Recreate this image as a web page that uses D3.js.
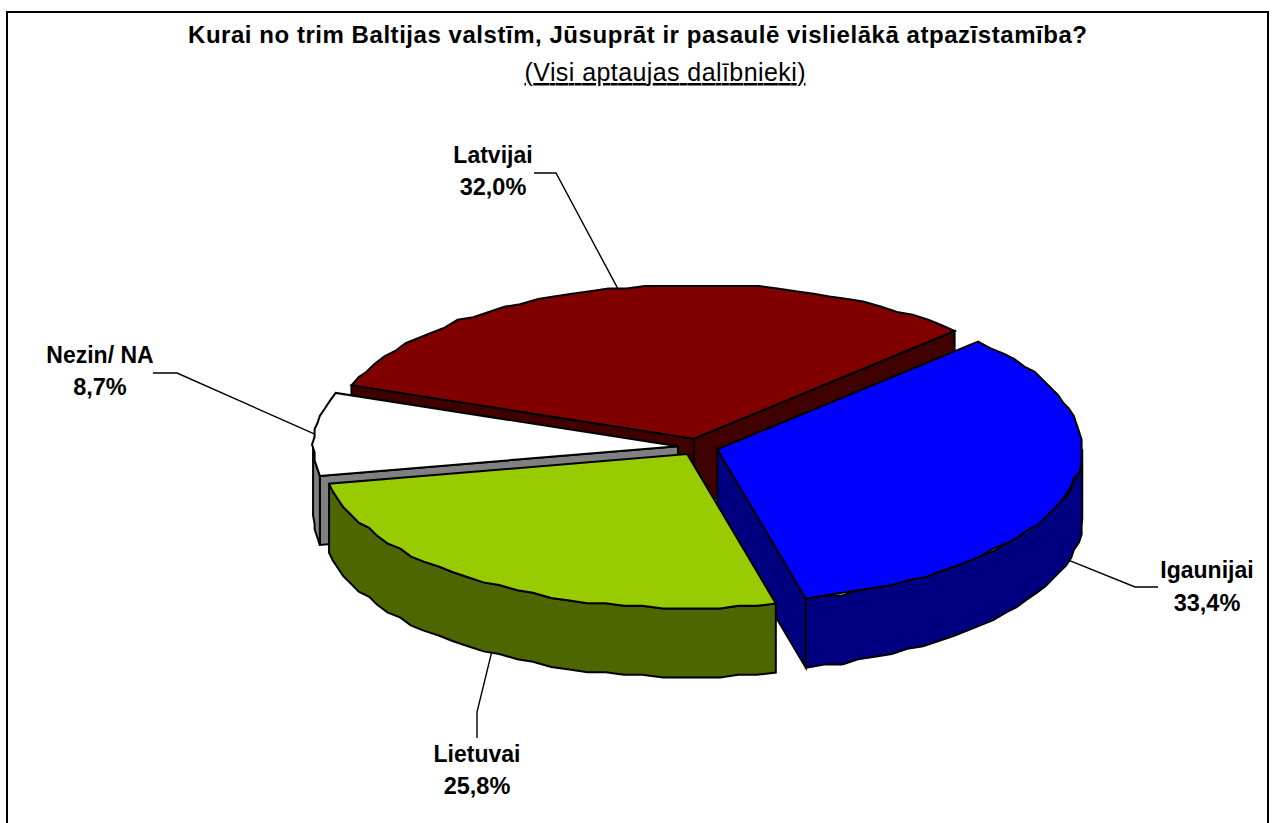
<!DOCTYPE html>
<html><head><meta charset="utf-8">
<script src="https://cdn.jsdelivr.net/npm/d3@7/dist/d3.min.js"></script>
<style>html,body{margin:0;padding:0;background:#fff}svg{display:block}text{font-family:"Liberation Sans",Arial,sans-serif;fill:#000}</style>
</head><body><svg id="c" width="1275" height="823"></svg>
<script>
const titleText = "Kurai no trim Baltijas valstīm, Jūsuprāt ir pasaulē vislielākā atpazīstamība?";
const subtitleText = "(Visi aptaujas dalībnieki)";
const categories = ["Igaunijai", "Lietuvai", "Nezin/ NA", "Latvijai"];
const values = [33.4, 25.8, 8.7, 32.0];
const topColors = ["#0000ff", "#99cc00", "#ffffff", "#800000"];
const wallColors = ["#000080", "#4d6600", "#808080", "#400000"];
const drawOrder = ["Latvijai", "Nezin/ NA", "Igaunijai", "Lietuvai"];

const W = 1275, H = 823;
const cx = 698, cy = 447, rx = 365, ry = 154, depth = 69, explode = 20, grid = 2.6;
const svg = d3.select("#c");
svg.append("path").attr("d", `M7,${H}V12H1268V${H}`).attr("fill","none").attr("stroke","#000").attr("stroke-width",2);

const startA = 45.6*Math.PI/180;
const pie = d3.pie().sort(null).startAngle(startA).endAngle(startA + 2*Math.PI);
const arcs = pie(values);
const q = v => Math.round(v/grid)*grid;
const line = d3.line();

const labelLayout = {
  "Igaunijai": {elbow:[1135,587], end:[1158,587], x:1207, y:[578,611], wall:true},
  "Lietuvai":  {elbow:[477,712], end:[477,738], x:477, y:[762,794], wall:true},
  "Nezin/ NA": {elbow:[177,373], end:[153,373], x:100, y:[363,395], wall:false},
  "Latvijai":  {elbow:[556,173], end:[534,173], x:493, y:[163,195], wall:false}
};

const slices = arcs.map((a,i)=>{
  const mid = (a.startAngle+a.endAngle)/2;
  const ox = cx + explode*Math.sin(mid), oy = cy - explode*(ry/rx)*Math.cos(mid);
  const pt = t => [ox + rx*Math.sin(t), oy - ry*Math.cos(t)];
  return {i, name:categories[i], a, mid, ox, oy, pt};
});
const bySlice = Object.fromEntries(slices.map(s=>[s.name,s]));
const down = p => [p[0], p[1]+depth];
const stroke = sel => sel.attr("stroke","#000").attr("stroke-width",2).attr("stroke-linejoin","miter");
const arcPts = (s,t0,t1) => {
  const n = Math.max(2, Math.ceil((t1-t0)/(Math.PI/60)));
  return d3.range(n+1).map(k=>{
    const t=t0+(t1-t0)*k/n; const p=s.pt(t);
    return (k===0||k===n)? p : [q(p[0]),q(p[1])];
  });
};

drawOrder.forEach(name=>{
  const s = bySlice[name], a = s.a, g = svg.append("g");
  const apex = [s.ox,s.oy], p0=s.pt(a.startAngle), p1=s.pt(a.endAngle);
  if (Math.sin(a.startAngle)<0) stroke(g.append("path")).attr("fill",wallColors[s.i])
     .attr("d",line([apex,p0,down(p0),down(apex)])+"Z");
  if (Math.sin(a.endAngle)>0) stroke(g.append("path")).attr("fill",wallColors[s.i])
     .attr("d",line([apex,p1,down(p1),down(apex)])+"Z");
  const t0=Math.max(a.startAngle,Math.PI/2), t1=Math.min(a.endAngle,3*Math.PI/2);
  if (t1>t0){
    const pts=arcPts(s,t0,t1);
    stroke(g.append("path")).attr("fill",wallColors[s.i])
      .attr("d",line(pts.concat(pts.slice().reverse().map(down)))+"Z");
  }
  stroke(g.append("path")).attr("fill",topColors[s.i])
    .attr("d",line([apex].concat(arcPts(s,a.startAngle,a.endAngle)))+"Z");
});

slices.forEach(s=>{
  const L = labelLayout[s.name];
  let st = s.pt(s.mid); if (L.wall) st = down(st);
  svg.append("path").attr("fill","none").attr("stroke","#000").attr("stroke-width",1.4)
    .attr("d",line([st,L.elbow,L.end]));
  svg.append("text").attr("x",L.x).attr("y",L.y[0]).attr("text-anchor","middle")
    .attr("font-size",23).attr("font-weight","bold").text(s.name);
  svg.append("text").attr("x",L.x).attr("y",L.y[1]).attr("text-anchor","middle")
    .attr("font-size",23.5).attr("font-weight","bold").text(values[s.i].toFixed(1).replace(".",",")+"%");
});

svg.append("text").attr("x",637.5).attr("y",43).attr("text-anchor","middle")
  .attr("font-size",24).attr("font-weight","bold")
  .attr("textLength",899).attr("lengthAdjust","spacing").text(titleText);
svg.append("text").attr("x",665).attr("y",81).attr("text-anchor","middle")
  .attr("font-size",25).attr("text-decoration","underline")
  .attr("textLength",281).attr("lengthAdjust","spacing").text(subtitleText);
</script></body></html>
